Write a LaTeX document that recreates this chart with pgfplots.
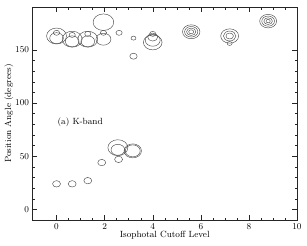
\documentclass[border=0pt]{standalone}
\usepackage{pgfplots}
\pgfplotsset{compat=1.18}
\begin{document}
\begin{tikzpicture}
\begin{axis}[
  scale only axis,
  width=264.5bp, height=212.7bp,
  xmin=-1, xmax=10, ymin=-10, ymax=190,
  xtick={0,2,...,10}, ytick={0,50,100,150},
  minor x tick num=3, minor y tick num=4,
  tick align=inside, major tick length=5pt, minor tick length=2.5pt,
  axis line style={black!85, line width=0.5pt},
  every tick/.style={black!85, line width=0.4pt},
  tick label style={font=\small},
  xlabel={Isophotal Cutoff Level},
  ylabel={Position Angle (degrees)},
  label style={font=\small},
  xlabel style={yshift=5pt},
  ylabel style={yshift=-5pt},
  clip=false,
]
\addplot[only marks, mark=o, scatter, black!80,
  scatter/use mapped color={draw=black!70, fill=none},
  visualization depends on={\thisrow{r} \as \perpointmarksize},
  scatter/@pre marker code/.append style={/tikz/mark size=\perpointmarksize pt},
  mark options={xscale=1.25, line width=0.45pt}]
table {
x y r
0 163 8
0 161 5.5
0 166 2.5
0.65 160 8
0.65 158 5.5
0.65 164 2.5
1.3 160 8
1.3 158 5.5
1.3 165 2.5
1.95 176 8.3
1.95 160 6
1.95 166 2.5
2.6 166 2.5
3.2 161 2
3.2 144 3
4.0 165 2.5
4.0 162 4
4.0 159 6
4.0 157 7.5
5.6 167 2
5.6 167 3.7
5.6 167 5.3
5.6 167 7
7.2 163 3
7.2 163 5
7.2 163 7.2
7.2 156 2
8.8 177 1.7
8.8 177 3.4
8.8 177 5.1
8.8 177 6.8
0 24 3.2
0.65 24 3.2
1.3 27 3.2
1.88 44 3.2
2.58 47 3.2
2.55 58 8
2.55 56 5.5
3.17 55 7
3.17 55 6
};
\node[anchor=west, font=\small] at (axis cs:-0.1,82) {(a)\ K-band};
\end{axis}
\pgfresetboundingbox
\path (current axis.south west) ++(-32.5bp,-26bp) coordinate (bl);
\path (current axis.north east) ++(10bp,7.3bp) coordinate (tr);
\path[use as bounding box] (bl) rectangle (tr);
\end{tikzpicture}
\end{document}
